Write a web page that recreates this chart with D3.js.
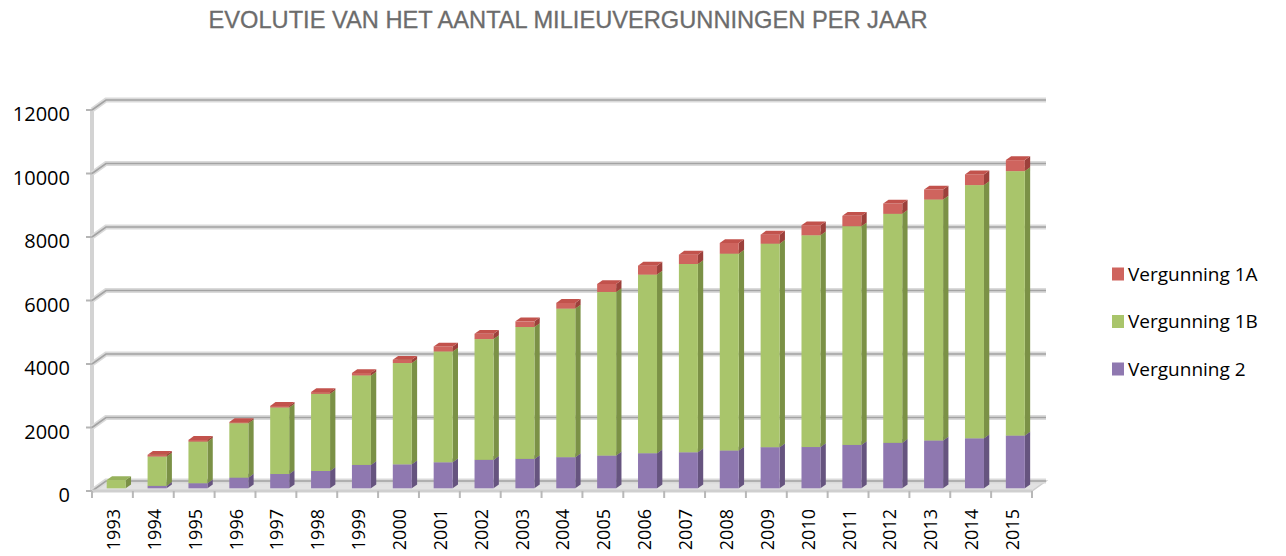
<!DOCTYPE html>
<html><head><meta charset="utf-8">
<script src="https://cdn.jsdelivr.net/npm/d3@7/dist/d3.min.js"></script>
<style>html,body{margin:0;padding:0;background:#fff;}svg{display:block;}</style>
</head><body>
<svg id="chart" width="1286" height="556"></svg>
<script>
const years = ["1993","1994","1995","1996","1997","1998","1999","2000","2001","2002","2003","2004","2005","2006","2007","2008","2009","2010","2011","2012","2013","2014","2015"];
const vergunning2  = [0, 75, 160, 335, 450, 545, 735, 755, 820, 895, 925, 980, 1030, 1105, 1135, 1190, 1295, 1300, 1365, 1430, 1505, 1575, 1660];
const vergunning1B = [260, 925, 1310, 1715, 2095, 2430, 2820, 3190, 3490, 3805, 4155, 4680, 5155, 5625, 5930, 6200, 6410, 6670, 6890, 7215, 7590, 7975, 8330];
const vergunning1A = [0, 55, 55, 35, 50, 55, 75, 105, 158, 168, 178, 180, 250, 283, 294, 337, 284, 316, 326, 326, 316, 336, 347];
const yTicks = [0, 2000, 4000, 6000, 8000, 10000, 12000];
const seriesNames = ["Vergunning 2", "Vergunning 1B", "Vergunning 1A"];
const legendOrder = ["Vergunning 1A", "Vergunning 1B", "Vergunning 2"];
const title = "EVOLUTIE VAN HET AANTAL MILIEUVERGUNNINGEN PER JAAR";

const colors = {
  "Vergunning 2":  {front:"#8f78b0", side:"#66547f", top:"#7d689c"},
  "Vergunning 1B": {front:"#a9c56b", side:"#7b9146", top:"#97b25c"},
  "Vergunning 1A": {front:"#cf645e", side:"#9c403b", top:"#c2524c"}
};

const svg = d3.select("#chart");
const X0 = 92, X1 = 1032, Y0 = 491, Y1 = 110;
const DX = 14, DY = -10; // depth offset
const x = d3.scaleBand().domain(years).range([X0, X1]).paddingInner(0).paddingOuter(0);
const y = d3.scaleLinear().domain([0, 12000]).range([Y0, Y1]);

// title
svg.append("text").attr("x", 568).attr("y", 28).attr("text-anchor", "middle")
  .attr("font-family", "'Liberation Sans', Arial, sans-serif").attr("font-size", 24)
  .attr("fill", "#6c6c6c").attr("stroke", "#6c6c6c").attr("stroke-width", 0.3)
  .attr("textLength", 719).attr("lengthAdjust", "spacingAndGlyphs")
  .text(title);

// floor
svg.append("polygon")
  .attr("points", [[X0, Y0], [X1, Y0], [X1 + DX, Y0 + DY], [X0 + DX, Y0 + DY]].map(p => p.join(",")).join(" "))
  .attr("fill", "#e2e2e2").attr("stroke", "#cdcdcd").attr("stroke-width", 1.5);

// left wall edge
svg.append("line").attr("x1", X0).attr("x2", X0).attr("y1", Y1).attr("y2", Y0 + 1)
  .attr("stroke", "#d3d3d3").attr("stroke-width", 4);

// gridlines (back wall) + diagonal + tick
const grid = svg.append("g");
yTicks.forEach(t => {
  const yf = y(t), yb = yf + DY;
  const path = `M${X0},${yf} L${X0 + DX},${yb} L${X1 + DX},${yb}`;
  grid.append("path").attr("d", path).attr("fill", "none").attr("stroke", "#dadada").attr("stroke-width", 5);
  grid.append("path").attr("d", path).attr("fill", "none").attr("stroke", "#a3a3a3").attr("stroke-width", 1.6);
  grid.append("line").attr("x1", X0 - 6).attr("x2", X0).attr("y1", yf).attr("y2", yf)
    .attr("stroke", "#b5b5b5").attr("stroke-width", 2);
});

// y labels
svg.append("g").selectAll("text").data(yTicks).join("text")
  .attr("x", 70).attr("y", d => y(d) + 4).attr("dy", "0.36em").attr("text-anchor", "end")
  .attr("font-family", "'Open Sans', sans-serif").attr("font-size", 20).attr("fill", "#000")
  .text(d => d);

// front edge + x ticks
svg.append("line").attr("x1", X0).attr("x2", X1).attr("y1", Y0).attr("y2", Y0)
  .attr("stroke", "#cfcfcf").attr("stroke-width", 3);
const tickXs = years.map(d => x(d)).concat([X1]);
svg.append("g").selectAll("line").data(tickXs).join("line")
  .attr("x1", d => d).attr("x2", d => d).attr("y1", Y0).attr("y2", Y0 + 7)
  .attr("stroke", "#b8b8b8").attr("stroke-width", 2);

// bars
const table = years.map((yr, i) => ({year: yr, "Vergunning 2": vergunning2[i], "Vergunning 1B": vergunning1B[i], "Vergunning 1A": vergunning1A[i]}));
const stack = d3.stack().keys(seriesNames)(table);
const f0 = 0.27, f1 = 0.65;
const bw = 19;
const ox = DX * f0, oy = DY * f0;
const ddx = DX * (f1 - f0), ddy = DY * (f1 - f0);
const barsG = svg.append("g");
years.forEach((yr, i) => {
  const g = barsG.append("g");
  stack.forEach(s => {
    const d = s[i];
    if (d[1] - d[0] <= 0) return;
    const c = colors[s.key];
    const xl = x(yr) + x.bandwidth() / 2 + ox - bw / 2, xr = xl + bw;
    const yt = y(d[1]) + oy, yb = y(d[0]) + oy;
    g.append("polygon").attr("points", [[xr, yb], [xr + ddx, yb + ddy], [xr + ddx, yt + ddy], [xr, yt]].map(p => p.join(",")).join(" "))
      .attr("fill", c.side);
    g.append("rect").attr("x", xl).attr("y", yt).attr("width", bw).attr("height", Math.max(0, yb - yt))
      .attr("fill", c.front);
    g.append("polygon").attr("points", [[xl, yt], [xr, yt], [xr + ddx, yt + ddy], [xl + ddx, yt + ddy]].map(p => p.join(",")).join(" "))
      .attr("fill", c.top);
  });
});

// x labels
svg.append("g").selectAll("text").data(years).join("text")
  .attr("transform", d => `translate(${x(d) + x.bandwidth() / 2 + 1},${Y0 + 18}) rotate(-90)`)
  .attr("text-anchor", "end").attr("dy", "0.36em")
  .attr("font-family", "'Open Sans', sans-serif").attr("font-size", 18).attr("fill", "#000")
  .text(d => d);

// legend
const lg = svg.append("g");
legendOrder.forEach((name, i) => {
  const cy = 274 + i * 47.5;
  lg.append("rect").attr("x", 1112).attr("y", cy - 6.5).attr("width", 12).attr("height", 13).attr("fill", colors[name].front);
  lg.append("text").attr("x", 1128).attr("y", cy).attr("dy", "0.36em")
    .attr("font-family", "'Open Sans', sans-serif").attr("font-size", 19).attr("fill", "#000").text(name);
});
</script>
</body></html>
